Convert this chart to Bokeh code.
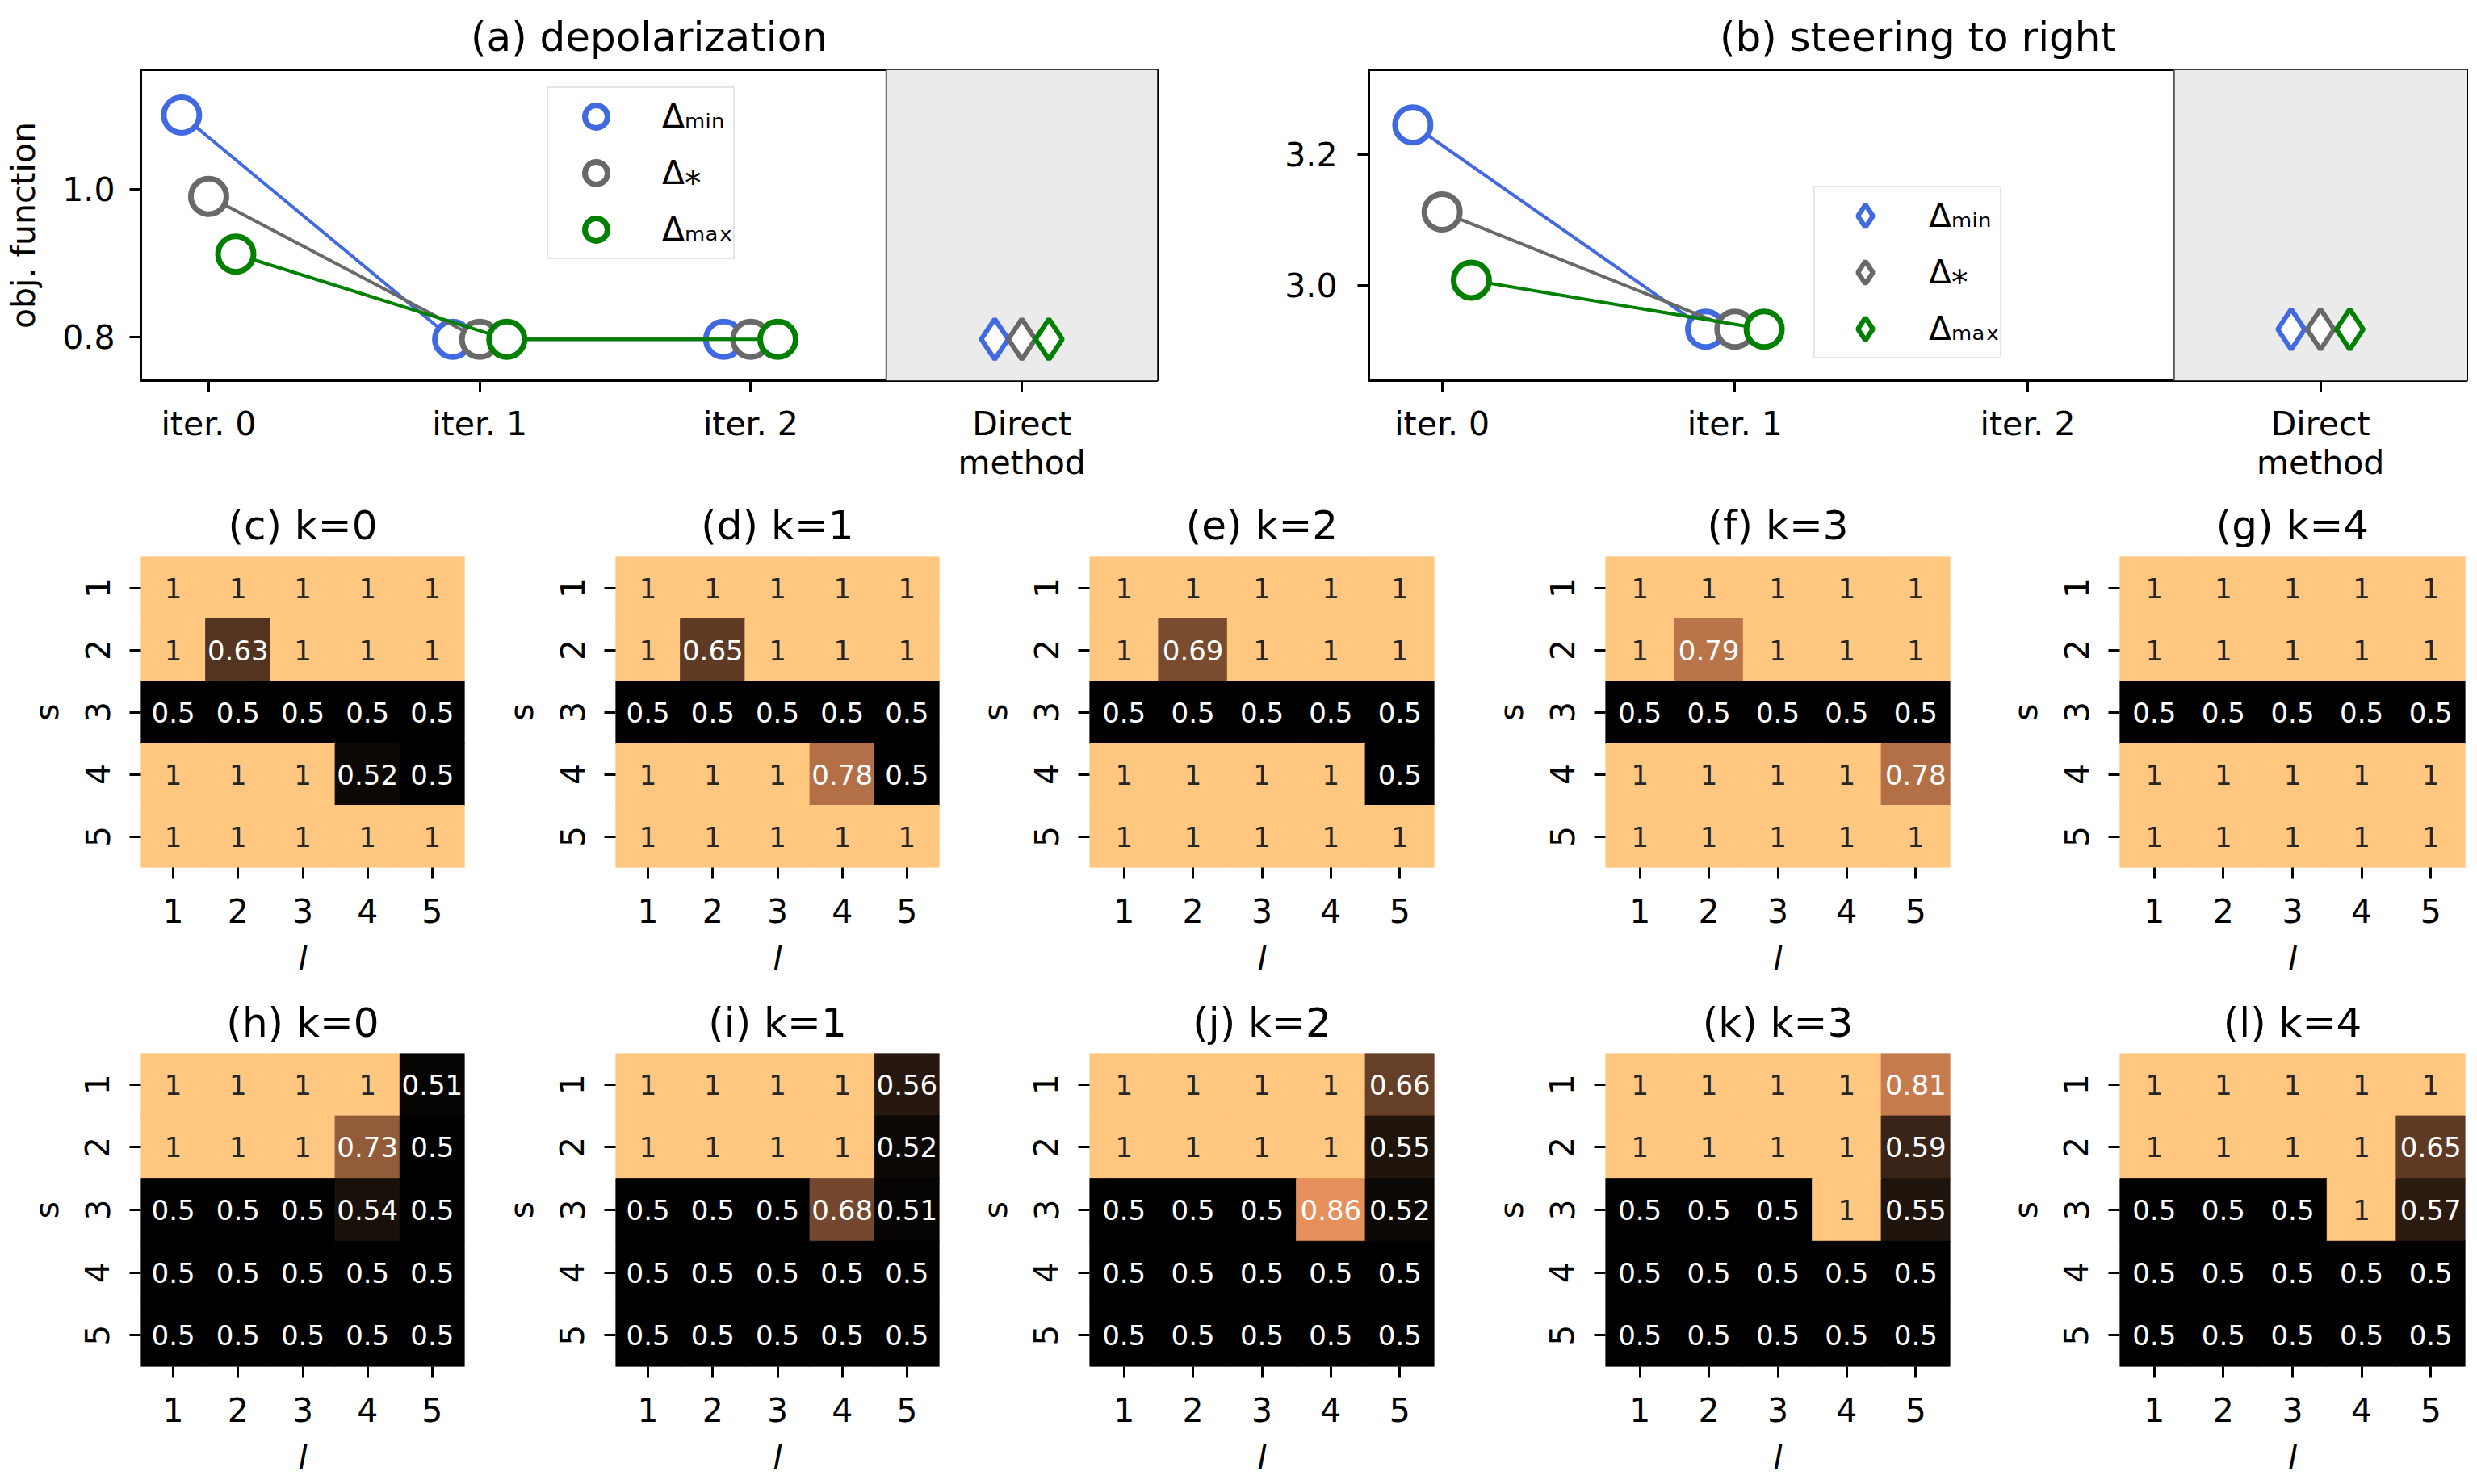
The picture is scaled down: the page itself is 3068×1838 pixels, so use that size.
from bokeh.plotting import figure
from bokeh.models import (ColumnDataSource, Range1d, FixedTicker, Legend, LegendItem,
                          BoxAnnotation, Span, PrintfTickFormatter)
from bokeh.layouts import column, row
from bokeh.transform import dodge, linear_cmap
from bokeh.embed import file_html
from bokeh.resources import INLINE
from bokeh.core.properties import value

FONT = "DejaVu Sans"

# ---------------- data: line panels ----------------
x_tick_labels = ["iter. 0", "iter. 1", "iter. 2", "Direct\nmethod"]
series_names = ["Δₘᵢₙ", "Δ⁎", "Δₘₐₓ"]
series_colors = ["#4169E1", "#696969", "#008000"]

a_title = "(a) depolarization"
a_iter_x = [0, 1, 2]
a_min = [1.100, 0.797, 0.797]
a_star = [0.990, 0.797, 0.797]
a_max = [0.912, 0.797, 0.797]
a_direct = [0.797, 0.797, 0.797]
a_yticks = [0.8, 1.0]

b_title = "(b) steering to right"
b_iter_x = [0, 1]
b_min = [3.245, 2.933]
b_star = [3.112, 2.933]
b_max = [3.008, 2.933]
b_direct = [2.933, 2.933, 2.933]
b_yticks = [3.0, 3.2]

direct_x = 3

# ---------------- data: heatmaps (rows s=1..5, cols l=1..5) ----------------
heat_ticks = [1, 2, 3, 4, 5]
row1_titles = ["(c) k=0", "(d) k=1", "(e) k=2", "(f) k=3", "(g) k=4"]
row2_titles = ["(h) k=0", "(i) k=1", "(j) k=2", "(k) k=3", "(l) k=4"]

c_vals = [[1, 1, 1, 1, 1], [1, 0.63, 1, 1, 1], [0.5, 0.5, 0.5, 0.5, 0.5], [1, 1, 1, 0.52, 0.5], [1, 1, 1, 1, 1]]
d_vals = [[1, 1, 1, 1, 1], [1, 0.65, 1, 1, 1], [0.5, 0.5, 0.5, 0.5, 0.5], [1, 1, 1, 0.78, 0.5], [1, 1, 1, 1, 1]]
e_vals = [[1, 1, 1, 1, 1], [1, 0.69, 1, 1, 1], [0.5, 0.5, 0.5, 0.5, 0.5], [1, 1, 1, 1, 0.5], [1, 1, 1, 1, 1]]
f_vals = [[1, 1, 1, 1, 1], [1, 0.79, 1, 1, 1], [0.5, 0.5, 0.5, 0.5, 0.5], [1, 1, 1, 1, 0.78], [1, 1, 1, 1, 1]]
g_vals = [[1, 1, 1, 1, 1], [1, 1, 1, 1, 1], [0.5, 0.5, 0.5, 0.5, 0.5], [1, 1, 1, 1, 1], [1, 1, 1, 1, 1]]

h_vals = [[1, 1, 1, 1, 0.51], [1, 1, 1, 0.73, 0.5], [0.5, 0.5, 0.5, 0.54, 0.5], [0.5, 0.5, 0.5, 0.5, 0.5], [0.5, 0.5, 0.5, 0.5, 0.5]]
i_vals = [[1, 1, 1, 1, 0.56], [1, 1, 1, 1, 0.52], [0.5, 0.5, 0.5, 0.68, 0.51], [0.5, 0.5, 0.5, 0.5, 0.5], [0.5, 0.5, 0.5, 0.5, 0.5]]
j_vals = [[1, 1, 1, 1, 0.66], [1, 1, 1, 1, 0.55], [0.5, 0.5, 0.5, 0.86, 0.52], [0.5, 0.5, 0.5, 0.5, 0.5], [0.5, 0.5, 0.5, 0.5, 0.5]]
k_vals = [[1, 1, 1, 1, 0.81], [1, 1, 1, 1, 0.59], [0.5, 0.5, 0.5, 1, 0.55], [0.5, 0.5, 0.5, 0.5, 0.5], [0.5, 0.5, 0.5, 0.5, 0.5]]
l_vals = [[1, 1, 1, 1, 1], [1, 1, 1, 1, 0.65], [0.5, 0.5, 0.5, 1, 0.57], [0.5, 0.5, 0.5, 0.5, 0.5], [0.5, 0.5, 0.5, 0.5, 0.5]]

VMIN, VMAX = 0.5, 1.0


# ---------------- colormap (matplotlib "copper") ----------------
def copper(t):
    t = max(0.0, min(1.0, t))
    return (min(1.0, 1.25 * t), 0.7812 * t, 0.4975 * t)


def to_hex(rgb):
    return "#%02x%02x%02x" % tuple(int(round(c * 255)) for c in rgb)


COPPER = [to_hex(copper(i / 255)) for i in range(256)]


def rel_lum(rgb):
    lin = [c / 12.92 if c <= 0.03928 else ((c + 0.055) / 1.055) ** 2.4 for c in rgb]
    return 0.2126 * lin[0] + 0.7152 * lin[1] + 0.0722 * lin[2]


def style_axes(p, size="41px"):
    for ax in list(p.xaxis) + list(p.yaxis):
        ax.major_label_text_font = FONT
        ax.major_label_text_font_size = size
        ax.major_label_text_color = "black"
        ax.major_label_text_line_height = 1.0
        ax.axis_label_text_font = FONT
        ax.axis_label_text_font_size = size
        ax.axis_label_text_font_style = "normal"
        ax.axis_label_text_color = "black"
        ax.major_tick_out = 14
        ax.major_tick_in = 0
        ax.major_tick_line_width = 3
        ax.major_tick_line_color = "black"
        ax.minor_tick_line_color = None


def style_title(p, standoff):
    p.title.text_font = FONT
    p.title.text_font_size = "50px"
    p.title.text_font_style = "normal"
    p.title.text_color = "black"
    p.title.align = "center"
    p.title.standoff = standoff


def line_panel(title, iter_x, series, direct, yticks, yr, ylabel, legend_marker,
               legend_loc, legend_glyph, legend_standoff,
               left, fw, right, top, fh, bottom, ylab_standoff):
    p = figure(title=title, frame_width=fw, frame_height=fh,
               x_range=Range1d(-0.25, 3.5), y_range=Range1d(*yr),
               output_backend="svg", toolbar_location=None,
               min_border_left=left, min_border_right=right,
               min_border_top=top, min_border_bottom=bottom,
               background_fill_color="white", border_fill_color="white")
    p.grid.visible = False
    p.outline_line_color = "black"
    p.outline_line_width = 3
    p.outline_line_alpha = 1.0
    style_title(p, 23)
    style_axes(p)
    p.xaxis.ticker = FixedTicker(ticks=[0, 1, 2, 3])
    p.xaxis.major_label_overrides = {i: lab for i, lab in enumerate(x_tick_labels)}
    p.xaxis.axis_line_color = None
    p.xaxis.major_label_standoff = 15
    p.yaxis.ticker = FixedTicker(ticks=yticks)
    p.yaxis.formatter = PrintfTickFormatter(format="%.1f")
    p.yaxis.axis_line_color = None
    p.yaxis.major_label_standoff = ylab_standoff
    if ylabel:
        p.yaxis.axis_label = ylabel
        p.yaxis.axis_label_standoff = 21

    p.add_layout(BoxAnnotation(left=2.5, fill_color="#EBEBEB", fill_alpha=1.0,
                               line_color=None, level="underlay"))
    p.add_layout(Span(location=2.5, dimension="height", line_color="#555555",
                      line_width=2, level="underlay"))

    circ_r, diam_r = [], []
    n = len(series)
    for i, (ys, dval, color) in enumerate(zip(series, direct, series_colors)):
        off = (i - (n - 1) / 2) * 0.1
        src = ColumnDataSource(dict(x=iter_x, y=ys))
        p.line(x=dodge("x", off), y="y", source=src, line_color=color, line_width=4)
        r = p.scatter(x=dodge("x", off), y="y", source=src, marker="circle", size=44,
                      line_color=color, line_width=7, fill_color="white")
        circ_r.append(r)
        dsrc = ColumnDataSource(dict(x=[direct_x], y=[dval]))
        rd = p.scatter(x=dodge("x", off), y="y", source=dsrc, marker="diamond", size=50,
                       line_color=color, line_width=6, fill_color="white")
        diam_r.append(rd)

    rends = circ_r if legend_marker == "circle" else diam_r
    gw, gh = legend_glyph
    legend = Legend(items=[LegendItem(label=nm, renderers=[r]) for nm, r in zip(series_names, rends)],
                    location=legend_loc, glyph_width=gw, glyph_height=gh, spacing=0,
                    padding=0, margin=0, label_standoff=legend_standoff,
                    label_text_font=FONT, label_text_font_size="41px",
                    label_text_color="black",
                    border_line_color="#cccccc", border_line_width=2,
                    background_fill_color="white", background_fill_alpha=0.8)
    p.add_layout(legend)
    return p


def heat_panel(title, grid, left, fw, right, top, fh, bottom, title_standoff):
    ls, ss, vs, txt, tcol = [], [], [], [], []
    for si, rowv in enumerate(grid):
        for li, v in enumerate(rowv):
            ls.append(heat_ticks[li])
            ss.append(heat_ticks[si])
            vs.append(v)
            txt.append(format(v, ".2g"))
            t = (v - VMIN) / (VMAX - VMIN)
            tcol.append("#262626" if rel_lum(copper(t)) > 0.408 else "white")
    src = ColumnDataSource(dict(l=ls, s=ss, v=vs, txt=txt, tc=tcol))
    p = figure(title=title, frame_width=fw, frame_height=fh,
               x_range=Range1d(0.5, 5.5), y_range=Range1d(5.5, 0.5),
               output_backend="svg", toolbar_location=None,
               min_border_left=left, min_border_right=right,
               min_border_top=top, min_border_bottom=bottom,
               background_fill_color="white", border_fill_color="white")
    p.grid.visible = False
    p.outline_line_color = None
    style_title(p, title_standoff)
    style_axes(p)
    cmap = linear_cmap("v", COPPER, VMIN, VMAX)
    p.rect(x="l", y="s", width=1, height=1, source=src, fill_color=cmap,
           line_color=cmap, line_width=1)
    p.text(x="l", y="s", text="txt", source=src, text_color="tc",
           text_align="center", text_baseline="middle",
           text_font=value(FONT), text_font_size="34px")
    p.xaxis.ticker = FixedTicker(ticks=heat_ticks)
    p.yaxis.ticker = FixedTicker(ticks=heat_ticks)
    p.xaxis.axis_line_color = None
    p.yaxis.axis_line_color = None
    p.xaxis.major_label_standoff = 24
    p.yaxis.major_label_standoff = 25
    p.yaxis.major_label_orientation = "vertical"
    p.xaxis.axis_label = "l"
    p.xaxis.axis_label_text_font_style = "italic"
    p.xaxis.axis_label_standoff = 18
    p.yaxis.axis_label = "s"
    p.yaxis.axis_label_standoff = 21
    return p


pa = line_panel(a_title, a_iter_x, [a_min, a_star, a_max], a_direct, a_yticks, (0.741, 1.161),
                "obj. function", "circle", (503, 150), (118, 70), 23,
                174, 1259, 20, 86, 385, 135, 18)
pb = line_panel(b_title, b_iter_x, [b_min, b_star, b_max], b_direct, b_yticks, (2.8545, 3.329),
                None, "diamond", (551, 27), (124, 70), 17,
                242, 1360, 3, 86, 385, 135, 25)

# frame placement: (left border, frame width, right border)
cols = [(174, 401, 27), (160, 401, 26), (160, 427, 52), (160, 427, 50), (160, 428, 5)]

row1_vals = [c_vals, d_vals, e_vals, f_vals, g_vals]
row2_vals = [h_vals, i_vals, j_vals, k_vals, l_vals]

row1 = [heat_panel(t, g, lb, fw, rb, 83, 385, 150, 20) for t, g, (lb, fw, rb) in zip(row1_titles, row1_vals, cols)]
row2 = [heat_panel(t, g, lb, fw, rb, 80, 388, 138, 17) for t, g, (lb, fw, rb) in zip(row2_titles, row2_vals, cols)]

layout = column(row(pa, pb), row(*row1), row(*row2))

open("out.html", "w").write(file_html(layout, INLINE))
